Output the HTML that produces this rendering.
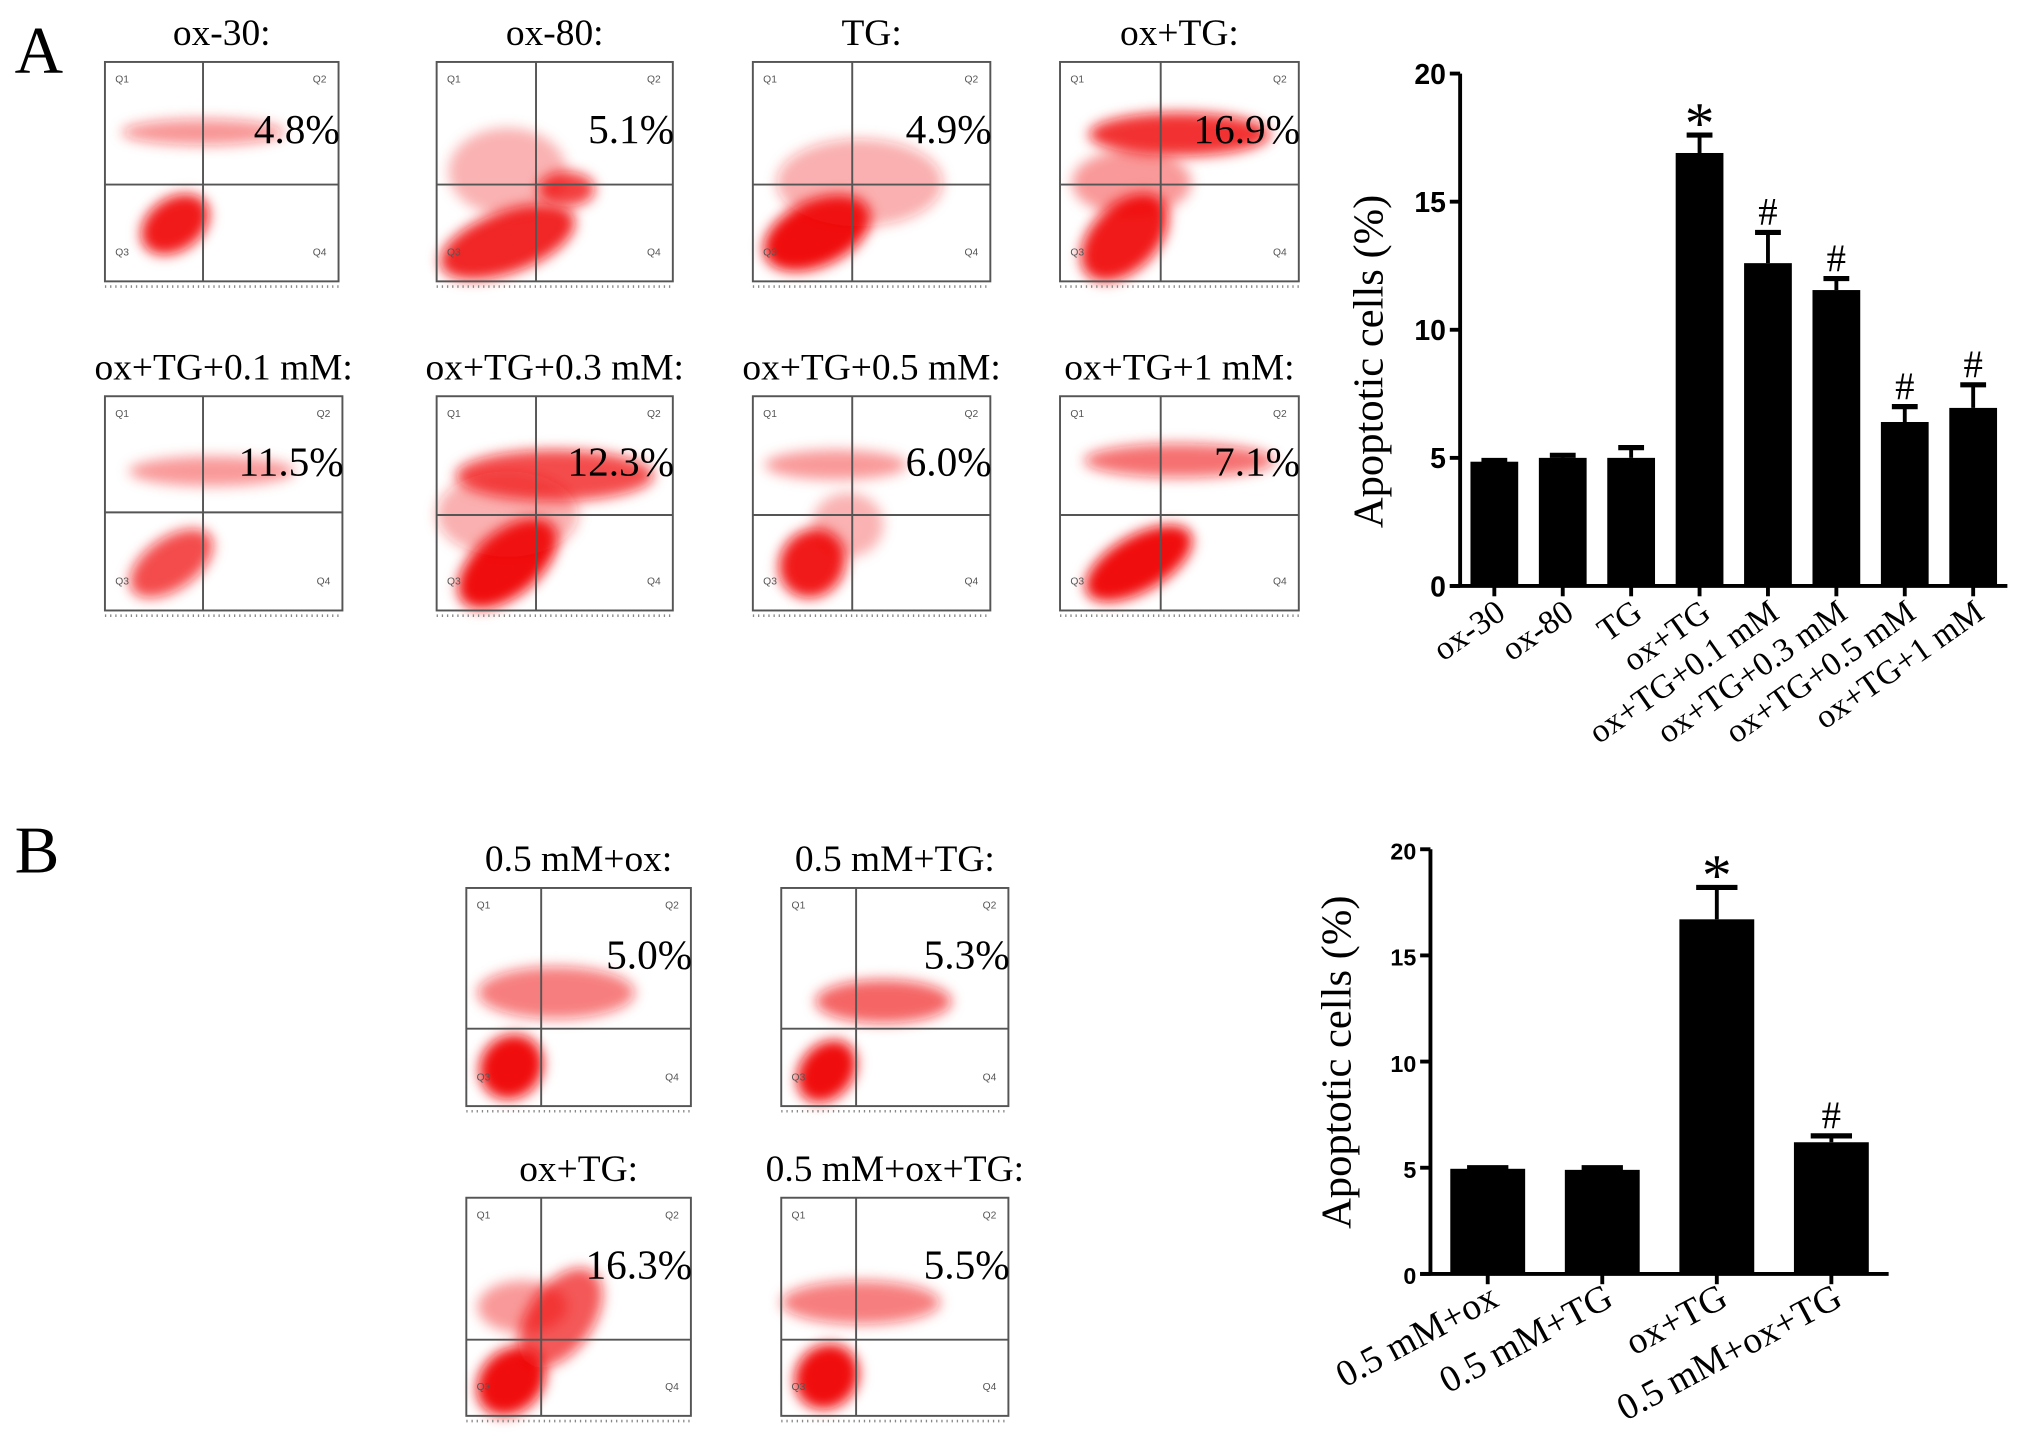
<!DOCTYPE html>
<html><head><meta charset="utf-8">
<style>
html,body{margin:0;padding:0;background:#fff;}
svg{display:block;}
.serif{font-family:"Liberation Serif",serif;}
.sans{font-family:"Liberation Sans",sans-serif;}
</style></head>
<body>
<svg id="fig" width="2031" height="1452" viewBox="0 0 1567 1125" xmlns="http://www.w3.org/2000/svg">
<defs>
<filter id="blur4" x="-50%" y="-50%" width="200%" height="200%"><feGaussianBlur stdDeviation="5"/></filter>
</defs>
<rect width="1567" height="1125" fill="#fff"/>
<text class="serif" x="8" y="56" font-size="52">A</text>
<text class="serif" x="8" y="676" font-size="52">B</text>
<g id="flows"></g>
<g id="chartA"></g>
<g id="chartB"></g>
</svg>
<script>
// ---- Chart A data ----
const catsA = ["ox-30","ox-80","TG","ox+TG","ox+TG+0.1 mM","ox+TG+0.3 mM","ox+TG+0.5 mM","ox+TG+1 mM"];
const valsA = [4.85, 5.0, 5.0, 16.9, 12.6, 11.55, 6.4, 6.95];
const errsA = [0.05, 0.1, 0.4, 0.7, 1.2, 0.45, 0.6, 0.9];
const marksA = ["","","","*","#","#","#","#"];
const ticksA = [0,5,10,15,20];
// ---- Chart B data ----
const catsB = ["0.5 mM+ox","0.5 mM+TG","ox+TG","0.5 mM+ox+TG"];
const valsB = [4.95, 4.9, 16.7, 6.2];
const errsB = [0.05, 0.1, 1.5, 0.3];
const marksB = ["","","*","#"];
const ticksB = [0,5,10,15,20];

const NS="http://www.w3.org/2000/svg";
function mk(parent,tag,attrs,text){const e=document.createElementNS(NS,tag);for(const k in attrs)e.setAttribute(k,attrs[k]);if(text!==undefined)e.textContent=text;parent.appendChild(e);return e;}

function barChart(g,cfg,cats,vals,errs,marks,ticks){
  const y=v=>cfg.y0-(v-cfg.min)/(cfg.max-cfg.min)*(cfg.y0-cfg.y1);
  const step=(cfg.xEnd-cfg.x0)/cats.length;
  const x=i=>cfg.x0+step*(i+0.5);
  const ya=mk(g,'line',{x1:cfg.x0,y1:y(cfg.max),x2:cfg.x0,y2:cfg.y0+1,stroke:'#000','stroke-width':3});
  
  
  const xa=mk(g,'line',{x1:cfg.x0-8,y1:cfg.y0,x2:cfg.xEnd,y2:cfg.y0,stroke:'#000','stroke-width':3});
  
  
  ticks.forEach(t=>{
    const tl=mk(g,'line',{x1:cfg.x0-8,y1:y(t),x2:cfg.x0,y2:y(t),stroke:'#000','stroke-width':3});
    
    
    const tt=mk(g,'text',{x:cfg.x0-11,y:y(t)+8,'text-anchor':'end','font-size':cfg.tickFs,'font-weight':'bold','class':'sans'},String(t));
    
    
  });
  const yl=mk(g,'text',{x:0,y:0,'text-anchor':'middle','font-size':cfg.labFs,'class':'serif',transform:`translate(${cfg.ylx},${cfg.yly}) rotate(-90)`},'Apoptotic cells (%)');
  
  
  cats.forEach((c,i)=>{
    const cx=x(i);
    const top=y(vals[i]);
    const eb=y(vals[i]+errs[i]);
    const el=mk(g,'line',{x1:cx,y1:top,x2:cx,y2:eb,stroke:'#000','stroke-width':3});
    
    
    const ec=mk(g,'line',{x1:cx-cfg.cap,y1:eb,x2:cx+cfg.cap,y2:eb,stroke:'#000','stroke-width':4});
    
    
    const r=mk(g,'rect',{x:cx-cfg.bw/2,y:top,width:cfg.bw,height:cfg.y0-top,fill:'#000'});
    
    
    const tk=mk(g,'line',{x1:cx,y1:cfg.y0,x2:cx,y2:cfg.y0+8,stroke:'#000','stroke-width':3});
    
    
    if(marks[i]){
      const isStar=marks[i]=='*';
      const m=mk(g,'text',{x:cx,y:isStar?eb+6:eb-6,'text-anchor':'middle','font-size':isStar?46:30,'class':'serif'},marks[i]);
      
      
    }
    const lb=mk(g,'text',{x:0,y:0,'text-anchor':'end','font-size':cfg.catFs,'class':'serif',transform:`translate(${cx+10},${cfg.y0+24}) rotate(${cfg.rot})`},c);
    
    
  });
}
barChart(document.getElementById('chartA'),{x0:1128,xEnd:1552,y0:454,y1:57,min:0,max:20,bw:37,cap:10,tickFs:22,labFs:33,catFs:26,rot:-35,ylx:1068,yly:280},catsA,valsA,errsA,marksA,ticksA);
barChart(document.getElementById('chartB'),{x0:1105,xEnd:1460,y0:987,y1:658,min:0,max:20,bw:58,cap:16,tickFs:18,labFs:33,catFs:29,rot:-28,ylx:1043,yly:823},catsB,valsB,errsB,marksB,ticksB);

// ---- Flow cytometry panels ----
const flowPanels=[
 ["ox-30:","4.8%",78,48,181,170,154,143,0],
 ["ox-80:","5.1%",335,48,183,170,412,143,1],
 ["TG:","4.9%",580,48,184,170,657,143,2],
 ["ox+TG:","16.9%",818,48,185,170,896,143,3],
 ["ox+TG+0.1 mM:","11.5%",78,307,184,166,154,397,4],
 ["ox+TG+0.3 mM:","12.3%",335,307,183,166,412,399,5],
 ["ox+TG+0.5 mM:","6.0%",580,307,184,166,657,399,6],
 ["ox+TG+1 mM:","7.1%",818,307,185,166,896,399,7],
 ["0.5 mM+ox:","5.0%",358,688,174,169,416,797,8],
 ["0.5 mM+TG:","5.3%",602,688,176,169,660,797,9],
 ["ox+TG:","16.3%",358,928,174,169,416,1038,10],
 ["0.5 mM+ox+TG:","5.5%",602,928,176,169,660,1038,11]
];
const blobSets=[
 [[.3,.74,.16,.12,.95,-35],[.42,.32,.35,.06,.45,0]],
 [[.3,.82,.3,.14,.9,-20],[.55,.58,.12,.08,.8,0],[.3,.5,.25,.2,.3,0]],
 [[.27,.78,.24,.15,1,-25],[.45,.55,.35,.2,.35,0]],
 [[.27,.8,.22,.15,.95,-45],[.5,.33,.38,.1,.85,0],[.3,.55,.25,.15,.4,0]],
 [[.28,.78,.2,.12,.75,-35],[.45,.35,.35,.07,.4,0]],
 [[.3,.78,.25,.15,1,-40],[.5,.37,.42,.12,.75,0],[.3,.55,.3,.2,.35,0]],
 [[.25,.78,.15,.15,.95,-55],[.35,.32,.3,.07,.4,0],[.4,.6,.15,.15,.3,0]],
 [[.33,.78,.25,.13,1,-30],[.5,.3,.4,.08,.6,0]],
 [[.2,.82,.15,.14,1,-50],[.4,.48,.35,.12,.55,0]],
 [[.2,.84,.15,.12,1,-50],[.45,.52,.3,.1,.65,0]],
 [[.2,.84,.17,.14,1,-45],[.42,.55,.25,.15,.7,-55],[.25,.5,.2,.12,.4,0]],
 [[.2,.82,.15,.14,1,-50],[.35,.48,.35,.1,.55,0]]
];
const fg=document.getElementById('flows');
flowPanels.forEach((p,i)=>{
  const [title,pct,x,y,w,h,dx,dy,bi]=p;
  const g=mk(fg,'g',{});
  
  
  blobSets[bi].forEach(b=>{
    const e=mk(g,'ellipse',{cx:x+b[0]*w,cy:y+b[1]*h,rx:b[2]*w,ry:b[3]*h,fill:'#f01010','fill-opacity':b[4],filter:'url(#blur4)',transform:`rotate(${b[5]} ${x+b[0]*w} ${y+b[1]*h})`});
    
    
  });
  const r=mk(g,'rect',{x:x,y:y,width:w,height:h,fill:'none',stroke:'#555','stroke-width':1.5});
  
  
  const v=mk(g,'line',{x1:dx,y1:y,x2:dx,y2:y+h,stroke:'#555','stroke-width':1.5});
  
  
  const hl=mk(g,'line',{x1:x,y1:dy,x2:x+w,y2:dy,stroke:'#555','stroke-width':1.5});
  
  
  [["Q1",x+8,y+16],["Q2",x+w-20,y+16],["Q3",x+8,y+h-20],["Q4",x+w-20,y+h-20]].forEach(q=>{
    const t=mk(g,'text',{x:q[1],y:q[2],'font-size':8,fill:'#555','class':'sans'},q[0]);
    
    
  });
  const xt=mk(g,'line',{x1:x,y1:y+h+4,x2:x+w,y2:y+h+4,stroke:'#888','stroke-width':2,'stroke-dasharray':'1 3'});
  
  
  const tt=mk(g,'text',{x:x+w/2,y:y-13,'text-anchor':'middle','font-size':29,'class':'serif'},title);
  
  
  const pt=mk(g,'text',{x:x+w+1,y:y+h*0.37,'text-anchor':'end','font-size':32,'class':'serif'},pct);
  
  
});
</script>
</body></html>
